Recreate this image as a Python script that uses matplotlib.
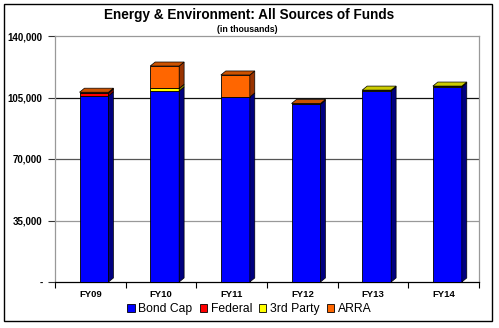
import numpy as np
import matplotlib.pyplot as plt
from matplotlib.patches import Polygon, Rectangle

plt.rcParams['font.family'] = ['Liberation Sans', 'DejaVu Sans']

# funding by fiscal year, in thousands
years = ['FY09', 'FY10', 'FY11', 'FY12', 'FY13', 'FY14']
bond_cap = [105900, 108700, 105300, 101100, 108700, 111000]
federal = [1600, 0, 0, 0, 0, 0]
third_party = [0, 1500, 0, 0, 500, 500]
arra = [500, 12700, 12500, 500, 0, 0]

series = [
    ('Bond Cap', bond_cap, '#0000FF', '#000080', '#0000CC'),
    ('Federal', federal, '#FF0000', '#800000', '#CC0000'),
    ('3rd Party', third_party, '#FFFF00', '#808000', '#CCCC00'),
    ('ARRA', arra, '#FF6600', '#993300', '#CC5200'),
]

fig = plt.figure(figsize=(4.99, 3.28), dpi=100)
fig.patch.set_facecolor('white')
fig.patches.append(Rectangle((4 / 499, 1 - 321 / 328), 488 / 499, 317 / 328,
                             transform=fig.transFigure, fill=False,
                             edgecolor='black', linewidth=1.0))

ax = fig.add_axes([55 / 499, 1 - 282 / 328, 424 / 499, 246 / 328])
ax.set_xlim(0, len(years))
ax.set_ylim(0, 140000)

# gridlines drawn on the back wall
for val, col in [(105000, '#111111'), (70000, '#555555'), (35000, '#999999')]:
    ax.axhline(val, color=col, linewidth=0.9, zorder=0)

x = np.arange(len(years))
width = 0.41
offset = 0.552
dx = 0.07       # depth to the right, in category units
dy = 2300       # depth upwards, in data units

bottoms = np.zeros(len(years))
tops = np.array([sum(s[1][i] for s in series) for i in range(len(years))])
for name, vals, face, side, top in series:
    vals = np.array(vals, dtype=float)
    ax.bar(x + offset, vals, width, bottom=bottoms, color=face,
           edgecolor='black', linewidth=0.6, label=name, zorder=3)
    for i in range(len(years)):
        if vals[i] <= 0:
            continue
        x1 = x[i] + offset + width / 2
        x0 = x[i] + offset - width / 2
        b, t = bottoms[i], bottoms[i] + vals[i]
        ax.add_patch(Polygon([(x1, b), (x1 + dx, b + dy), (x1 + dx, t + dy), (x1, t)],
                             closed=True, facecolor=side, edgecolor='black',
                             linewidth=0.5, zorder=3))
        if np.isclose(t, tops[i]):
            ax.add_patch(Polygon([(x0, t), (x0 + dx, t + dy), (x1 + dx, t + dy), (x1, t)],
                                 closed=True, facecolor=top, edgecolor='black',
                                 linewidth=0.5, zorder=4))
    bottoms += vals

# axes frame
for side_name in ['left', 'top', 'right']:
    ax.spines[side_name].set_color('#999999')
    ax.spines[side_name].set_linewidth(0.9)
ax.spines['bottom'].set_color('black')
ax.spines['bottom'].set_linewidth(0.9)

ax.set_yticks([0, 35000, 70000, 105000, 140000])
ax.set_yticklabels(['-', '35,000', '70,000', '105,000', '140,000'],
                   fontsize=7, fontweight='bold')
ax.tick_params(axis='y', length=5, width=0.8, color='#333333', pad=4)

ax.set_xticks(np.arange(len(years) + 1))
ax.set_xticklabels([])
ax.set_xticks(x + 0.5, minor=True)
ax.set_xticklabels(years, minor=True, fontsize=6.8, fontweight='bold')
ax.tick_params(axis='x', which='major', length=4, width=0.8, color='black')
ax.tick_params(axis='x', which='minor', length=0, pad=6)

fig.text(0.5, 1 - 15 / 328, 'Energy & Environment: All Sources of Funds',
         ha='center', va='center', fontsize=9.8, fontweight='bold')
fig.text(0.495, 1 - 29 / 328, '(in thousands)', ha='center', va='center',
         fontsize=6.3, fontweight='bold')

handles, labels = ax.get_legend_handles_labels()
fig.legend(handles, labels, loc='center', bbox_to_anchor=(0.5, 1 - 309 / 328),
           ncol=4, frameon=False, fontsize=8.7, handlelength=0.6,
           handleheight=0.6, handletextpad=0.3, columnspacing=0.6,
           borderaxespad=0)

fig.savefig('out.png', dpi=100)
